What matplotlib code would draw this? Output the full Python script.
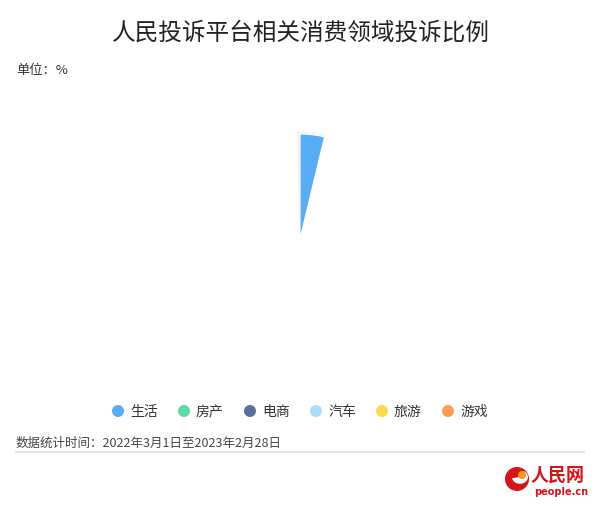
import numpy as np
import matplotlib
matplotlib.use("Agg")
import matplotlib.pyplot as plt
from matplotlib.patches import Ellipse, Wedge

plt.rcParams["font.family"] = ["Noto Sans CJK SC", "DejaVu Sans"]

# Categories and colours of the rose chart; only the first slice has been drawn so far.
CATEGORIES = ["生活", "房产", "电商", "汽车", "旅游", "游戏"]
COLORS = ["#58aef5", "#5fd8a8", "#5b6e9c", "#a8defa", "#ffd84c", "#ff9b4e"]
SWEEP_DEG = [13.5, 0, 0, 0, 0, 0]       # angular extent visible per slice
RADIUS = [105, 0, 0, 0, 0, 0]           # slice radius

W, H = 600, 510
fig = plt.figure(figsize=(W / 100, H / 100), dpi=100)
fig.patch.set_facecolor("white")


def fx(x):
    return x / W


def fy(y):
    return 1 - y / H


def dot(x, y, r, color, **kw):
    # circle given in pixels, drawn in figure coords
    fig.patches.append(Ellipse((fx(x), fy(y)), 2 * r / W, 2 * r / H,
                               transform=fig.transFigure, facecolor=color,
                               edgecolor="none", **kw))


# Polar axes centred at (300, 240), 1 data unit = 1 px
cx, cy, half = 300, 240, 150
ax = fig.add_axes([fx(cx - half), fy(cy + half), 2 * half / W, 2 * half / H],
                  projection="polar")
ax.set_theta_zero_location("N")
ax.set_theta_direction(-1)
ax.set_ylim(0, half)
ax.axis("off")

start = 0.0
for cat, col, sweep, r in zip(CATEGORIES, COLORS, SWEEP_DEG, RADIUS):
    if sweep <= 0:
        continue
    theta = np.deg2rad(start + sweep / 2)
    width = np.deg2rad(sweep)
    # soft shadow
    for k, a in enumerate([0.025, 0.02, 0.015]):
        ax.bar(theta - np.deg2rad(0.8), r + 1 + k, width=width + np.deg2rad(1.0 + k),
               bottom=0, color="#000000", alpha=a, linewidth=0, zorder=1)
    ax.bar(theta, r, width=width, bottom=0, color=col, edgecolor="white",
           linewidth=0.8, zorder=3)
    start += sweep

# Title and labels
fig.text(fx(301), fy(33), "人民投诉平台相关消费领域投诉比例", ha="center", va="center",
         fontsize=17, fontweight="medium", color="#222222")
fig.text(fx(16), fy(71), "单位：%", ha="left", va="center", fontsize=9.5, color="#333333")

# Legend
leg_x = [118, 184, 250, 316, 382, 448]
for x, cat, col in zip(leg_x, CATEGORIES, COLORS):
    dot(x, 412, 6, col)
    fig.text(fx(x + 12), fy(412), cat, ha="left", va="center", fontsize=10,
             color="#333333")

# Footnote and divider
fig.text(fx(16), fy(443), "数据统计时间：2022年3月1日至2023年2月28日", ha="left",
         va="center", fontsize=9, color="#444444")
fig.add_artist(plt.Line2D([fx(16), fx(584)], [fy(453), fy(453)],
                          transform=fig.transFigure, color="#e4e4e4", linewidth=1.5))

# people.cn logo
dot(517, 480, 12, "#d7141a")
fig.patches.append(Wedge((fx(520), fy(478)), 8 / W, 190, 60,
                         transform=fig.transFigure, facecolor="white",
                         edgecolor="none"))
dot(522, 476, 4, "#f39a1e")
fig.text(fx(558), fy(475), "人民网", ha="center", va="center", fontsize=13,
         fontweight="bold", color="#d7141a")
fig.text(fx(561), fy(492), "people.cn", ha="center", va="center", fontsize=7,
         fontweight="bold", color="#d7141a", family="DejaVu Sans")

fig.savefig("out.png", dpi=100, facecolor="white")
